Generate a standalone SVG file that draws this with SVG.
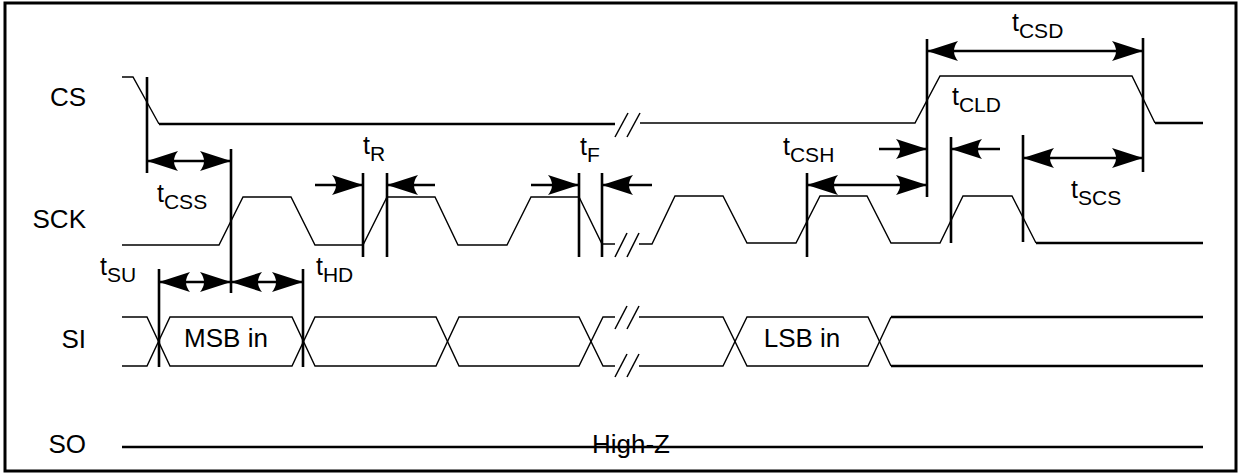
<svg xmlns="http://www.w3.org/2000/svg" width="1245" height="473" viewBox="0 0 1245 473">
<style>
  .lbl { font-family: "Liberation Sans", Arial, sans-serif; font-size: 26px; fill: #000; }
  .tl { font-family: "Liberation Sans", Arial, sans-serif; font-size: 25px; fill: #000; }
  .sub { font-size: 21px; }
  .thin { fill: none; stroke: #000; stroke-width: 1.4; stroke-linejoin: miter; }
  .thick { fill: none; stroke: #000; stroke-width: 2.6; }
  .brk { fill: none; stroke: #000; stroke-width: 1.5; }
  .vl { fill: none; stroke: #000; stroke-width: 2.6; }
  .dim { fill: none; stroke: #000; stroke-width: 2.6; }
  .d2 { marker-start: url(#aS); marker-end: url(#aE); }
  .d1 { marker-end: url(#aE); }
</style>
<defs>
  <marker id="aE" markerUnits="userSpaceOnUse" viewBox="-32 -11 33 22" markerWidth="33" markerHeight="22" refX="0" refY="0" orient="auto">
    <path d="M0,0 L-31,-10 Q-23,0 -31,10 Z" fill="#000"/>
  </marker>
  <marker id="aS" markerUnits="userSpaceOnUse" viewBox="-1 -11 33 22" markerWidth="33" markerHeight="22" refX="0" refY="0" orient="auto">
    <path d="M0,0 L31,-10 Q23,0 31,10 Z" fill="#000"/>
  </marker>
</defs>

<rect id="frame" x="5" y="3" width="1231" height="468" fill="#fff" stroke="#000" stroke-width="3"/>

<g id="labels">
  <text class="lbl" x="86" y="106" text-anchor="end">CS</text>
  <text class="lbl" x="86" y="228" text-anchor="end">SCK</text>
  <text class="lbl" x="86" y="348" text-anchor="end">SI</text>
  <text class="lbl" x="86" y="453" text-anchor="end">SO</text>
</g>

<g id="sig-cs">
  <polyline class="thin" points="122,77 133,77 159,124"/>
  <line class="thick" x1="159" y1="124" x2="615" y2="124"/>
  <line class="brk" x1="615" y1="137" x2="628" y2="113"/>
  <line class="brk" x1="627" y1="137" x2="640" y2="113"/>
  <polyline class="thin" points="640,123 915,123 940,76 1132,76 1155,123"/>
  <line class="thick" x1="1155" y1="123" x2="1203" y2="123"/>
</g>

<g id="sig-sck">
  <polyline class="thin" points="122,245 219,245 243,197 291,197 315,245 363,245 387,197 435,197 458,245 507,245 531,197 579,197 602,244 615,244"/>
  <line class="brk" x1="615" y1="257" x2="627" y2="233"/>
  <line class="brk" x1="627" y1="257" x2="639" y2="233"/>
  <polyline class="thin" points="639,244 652,244 675,196 723,196 747,243 796,243 820,196 867,196 891,243 940,243 963,196 1012,196 1036,243"/>
  <line class="thick" x1="1036" y1="243" x2="1203" y2="243"/>
</g>

<g id="sig-si">
  <polyline class="thin" points="122,317 147,317 170,366 292,366 315,317 436,317 459,366 579,366 603,317 615,317"/>
  <polyline class="thin" points="122,366 147,366 170,317 292,317 315,366 436,366 459,317 579,317 603,366 615,366"/>
  <line class="brk" x1="615" y1="329" x2="627" y2="306"/>
  <line class="brk" x1="627" y1="329" x2="639" y2="306"/>
  <line class="brk" x1="615" y1="377" x2="627" y2="354"/>
  <line class="brk" x1="627" y1="377" x2="639" y2="354"/>
  <polyline class="thin" points="639,317 723,317 747,366 868,366 891,317"/>
  <polyline class="thin" points="639,366 723,366 747,317 868,317 891,366"/>
  <line class="thick" x1="891" y1="317" x2="1203" y2="317"/>
  <line class="thick" x1="891" y1="366" x2="1203" y2="366"/>
  <text class="lbl" x="226" y="347" text-anchor="middle">MSB in</text>
  <text class="lbl" x="802" y="347" text-anchor="middle">LSB in</text>
</g>

<g id="sig-so">
  <line class="thick" x1="122" y1="447" x2="1203" y2="447"/>
  <text class="lbl" x="631" y="453" text-anchor="middle">High-Z</text>
</g>

<g id="refs">
  <line class="vl" x1="147" y1="77" x2="147" y2="173"/>
  <line class="vl" x1="231" y1="149" x2="231" y2="293"/>
  <line class="vl" x1="363" y1="173" x2="363" y2="257"/>
  <line class="vl" x1="387" y1="173" x2="387" y2="257"/>
  <line class="vl" x1="579" y1="173" x2="579" y2="257"/>
  <line class="vl" x1="602" y1="173" x2="602" y2="257"/>
  <line class="vl" x1="807" y1="173" x2="807" y2="257"/>
  <line class="vl" x1="927" y1="39" x2="927" y2="197"/>
  <line class="vl" x1="951" y1="137" x2="951" y2="243"/>
  <line class="vl" x1="1023" y1="135" x2="1023" y2="242"/>
  <line class="vl" x1="1143" y1="38" x2="1143" y2="172"/>
  <line class="vl" x1="159" y1="269" x2="159" y2="367"/>
  <line class="vl" x1="303" y1="269" x2="303" y2="367"/>
</g>

<g id="connectors">
  <line class="dim d2" x1="147" y1="161" x2="231" y2="161"/>
  <line class="dim d1" x1="315" y1="185" x2="363" y2="185"/>
  <line class="dim d1" x1="435" y1="185" x2="387" y2="185"/>
  <line class="dim d1" x1="531" y1="185" x2="579" y2="185"/>
  <line class="dim d1" x1="652" y1="185" x2="602" y2="185"/>
  <line class="dim d2" x1="807" y1="185" x2="927" y2="185"/>
  <line class="dim d1" x1="879" y1="149" x2="927" y2="149"/>
  <line class="dim d1" x1="1000" y1="149" x2="951" y2="149"/>
  <line class="dim d2" x1="927" y1="51" x2="1143" y2="51"/>
  <line class="dim d2" x1="1023" y1="158" x2="1143" y2="158"/>
  <line class="dim d2" x1="159" y1="282" x2="231" y2="282"/>
  <line class="dim d2" x1="231" y1="282" x2="303" y2="282"/>
</g>

<g id="timing-labels">
  <text class="tl" x="1012" y="31">t<tspan class="sub" dy="7">CSD</tspan></text>
  <text class="tl" x="952" y="105">t<tspan class="sub" dy="7">CLD</tspan></text>
  <text class="tl" x="783" y="155">t<tspan class="sub" dy="7">CSH</tspan></text>
  <text class="tl" x="1071" y="198">t<tspan class="sub" dy="7">SCS</tspan></text>
  <text class="tl" x="157" y="202">t<tspan class="sub" dy="7">CSS</tspan></text>
  <text class="tl" x="363" y="154">t<tspan class="sub" dy="7">R</tspan></text>
  <text class="tl" x="580" y="155">t<tspan class="sub" dy="7">F</tspan></text>
  <text class="tl" x="100" y="275">t<tspan class="sub" dy="7">SU</tspan></text>
  <text class="tl" x="316" y="275">t<tspan class="sub" dy="7">HD</tspan></text>
</g>
</svg>
